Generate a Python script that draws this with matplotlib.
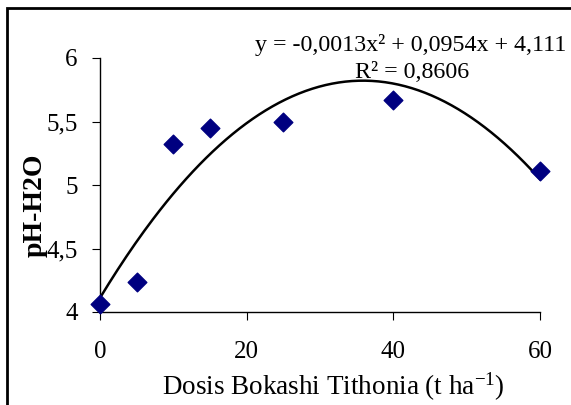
import numpy as np
import matplotlib
matplotlib.use("Agg")
import matplotlib.pyplot as plt
from matplotlib.patches import Rectangle

# data
dosis = [0, 5, 10, 15, 25, 40, 60]
ph_h2o = [4.06, 4.24, 5.32, 5.45, 5.50, 5.67, 5.11]

x_ticks = [0, 20, 40, 60]
y_ticks = [4, 4.5, 5, 5.5, 6]
y_tick_labels = ["4", "4,5", "5", "5,5", "6"]

equation = "y = -0,0013x² + 0,0954x + 4,111"
r_squared = "R² = 0,8606"

plt.rcParams["font.family"] = ["Liberation Serif", "DejaVu Serif"]
plt.rcParams["mathtext.fontset"] = "custom"
plt.rcParams["mathtext.rm"] = "Liberation Serif"
plt.rcParams["mathtext.it"] = "Liberation Serif:italic"

W, H = 571, 405
fig = plt.figure(figsize=(W / 100, H / 100), dpi=100)
ax = fig.add_axes([100 / W, 1 - 312 / H, 440 / W, 254 / H])

# quadratic trend line (Excel style polynomial fit)
coef = np.polyfit(dosis, ph_h2o, 2)
xs = np.linspace(0, 60, 200)
ax.plot(xs, np.polyval(coef, xs), color="black", lw=1.8, clip_on=False, zorder=2)

ax.scatter(dosis, ph_h2o, marker="D", s=90, color="#000080", zorder=3, clip_on=False)

ax.set_xlim(0, 60)
ax.set_ylim(4, 6)
ax.set_xticks(x_ticks)
ax.set_yticks(y_ticks)
ax.set_yticklabels(y_tick_labels)
ax.tick_params(axis="both", labelsize=18, length=6, width=0.8, direction="out")
ax.tick_params(axis="x", pad=15)
ax.tick_params(axis="y", pad=10)

for side in ["top", "right"]:
    ax.spines[side].set_visible(False)
for side in ["left", "bottom"]:
    ax.spines[side].set_linewidth(1.0)

fig.text(333 / W, 1 - 395 / H, "Dosis Bokashi Tithonia (t ha$^{-1}$)",
         ha="center", va="baseline", fontsize=19.5)
fig.text(35 / W, 1 - 205 / H, "pH-H2O", rotation=90, ha="center", va="center",
         fontsize=20, fontweight="bold")

fig.text(566 / W, 1 - 45 / H, equation, ha="right", va="center", fontsize=17.3)
fig.text(412 / W, 1 - 73 / H, r_squared, ha="center", va="center", fontsize=17.3)

# chart frame, cut at right and bottom like the reference
fig.patches.append(Rectangle((7 / W, -0.1), 1.2, 1 - 8 / H + 0.1,
                             transform=fig.transFigure, fill=False,
                             edgecolor="black", lw=2))

fig.savefig("out.png", dpi=100)
